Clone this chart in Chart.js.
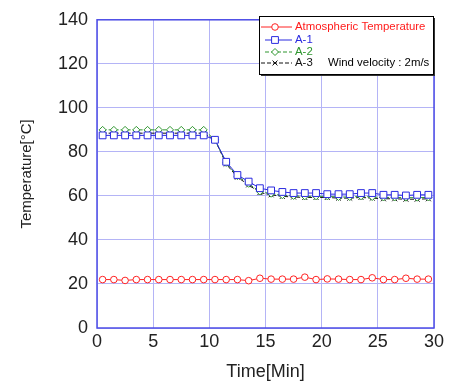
<!DOCTYPE html>
<html>
<head>
<meta charset="utf-8">
<script src="https://cdn.jsdelivr.net/npm/chart.js@4/dist/chart.umd.min.js"></script>
<style>
  body { margin: 0; background: #fff; }
  #chart { display: block; }
</style>
</head>
<body>
<canvas id="chart" width="451" height="387"></canvas>
<script>
const times = [0.5, 1.5, 2.5, 3.5, 4.5, 5.5, 6.5, 7.5, 8.5, 9.5,
    10.5, 11.5, 12.5, 13.5, 14.5, 15.5, 16.5, 17.5, 18.5, 19.5,
    20.5, 21.5, 22.5, 23.5, 24.5, 25.5, 26.5, 27.5, 28.5, 29.5];

const atmosphere = [22, 22, 21.6, 22, 22, 22, 22, 22, 22, 22,
    22, 22, 22, 21.5, 22.6, 22.2, 22.2, 22.2, 23.1, 22,
    22.3, 22.2, 22, 22, 22.8, 22, 22, 22.6, 22.2, 22.2];

const a1 = [87.5, 87.5, 87.5, 87.5, 87.5, 87.5, 87.5, 87.5, 87.5, 87.5,
    85.5, 75.5, 69.5, 66.5, 63.5, 62.5, 61.8, 61.3, 61.3, 61.3,
    60.8, 60.8, 60.8, 61.3, 61.3, 60.5, 60.5, 60.2, 60.5, 60.5];

const a2 = [90, 90, 90, 90, 90, 90, 90, 90, 90, 90,
    85.5, 75, 69, 65.5, 62, 61, 60.3, 60, 59.8, 59.8,
    59.8, 59.5, 59.5, 59.8, 59.5, 59.3, 59.3, 59.2, 59.2, 59.3];

const a3 = [88.5, 88.5, 88.5, 88.5, 88.5, 88.5, 88.5, 88.5, 88.5, 88.5,
    85.5, 74.5, 68.5, 65, 61.5, 60.5, 59.8, 59.5, 59.3, 59.3,
    59.3, 59, 59, 59.3, 59, 58.7, 58.7, 58.5, 58.5, 58.7];

const seriesNames = ['Atmospheric Temperature', 'A-1', 'A-2', 'A-3'];
const note = 'Wind velocity : 2m/s';

const font = "'Liberation Sans', Arial, sans-serif";
const axisBlue = '#4d4de6';

const toPoints = values => values.map((v, i) => ({ x: times[i], y: v }));

const frame = {
    id: 'frame',
    afterDatasetsDraw(chart) {
        const { ctx, chartArea: a } = chart;
        ctx.save();
        ctx.strokeStyle = axisBlue;
        ctx.lineWidth = 1.5;
        ctx.strokeRect(a.left, a.top, a.right - a.left, a.bottom - a.top);
        ctx.restore();
    }
};

const boxLegend = {
    id: 'boxLegend',
    afterDraw(chart) {
        const { ctx } = chart;
        const x0 = 259, y0 = 16, w = 174, h = 58;
        ctx.save();
        ctx.fillStyle = '#333';
        ctx.fillRect(x0 + 2, y0 + 2, w, h);
        ctx.fillStyle = '#fff';
        ctx.fillRect(x0, y0, w, h);
        ctx.strokeStyle = '#000';
        ctx.lineWidth = 1;
        ctx.strokeRect(x0 + 0.5, y0 + 0.5, w, h);

        const rows = [27, 40, 52, 63];
        ctx.font = '11.4px ' + font;
        ctx.textBaseline = 'middle';
        chart.data.datasets.forEach((ds, i) => {
            const y = rows[i];
            ctx.strokeStyle = ds.borderColor;
            ctx.lineWidth = 1;
            ctx.setLineDash(ds.borderDash || []);
            ctx.beginPath();
            ctx.moveTo(i === 0 || i === 3 ? 261 : 265, y);
            ctx.lineTo(292, y);
            ctx.stroke();
            ctx.setLineDash([]);
            ctx.fillStyle = '#fff';
            ctx.strokeStyle = ds.borderColor;
            Chart.helpers.drawPoint(ctx, {
                pointStyle: ds.pointStyle,
                radius: ds.pointRadius,
                borderWidth: 1
            }, 275, y);
            ctx.fillStyle = ds.legendText;
            ctx.fillText(ds.label, 295, y);
        });
        ctx.fillStyle = '#000';
        ctx.fillText(note, 328, rows[3]);
        ctx.restore();
    }
};

const ctx = document.getElementById('chart').getContext('2d');
new Chart(ctx, {
    type: 'line',
    data: {
        datasets: [{
            label: seriesNames[0],
            data: toPoints(atmosphere),
            borderColor: '#ff2222',
            backgroundColor: '#fff',
            legendText: '#ff1a1a',
            pointStyle: 'circle',
            pointRadius: 3.3
        }, {
            label: seriesNames[1],
            data: toPoints(a1),
            borderColor: '#2a2ae0',
            backgroundColor: '#fff',
            legendText: '#2a2ae0',
            pointStyle: 'rect',
            pointRadius: 4.8
        }, {
            label: seriesNames[2],
            data: toPoints(a2),
            borderColor: '#2e962e',
            backgroundColor: '#fff',
            legendText: '#2e962e',
            borderDash: [4, 2],
            pointStyle: 'rectRot',
            pointRadius: 3.5
        }, {
            label: seriesNames[3],
            data: toPoints(a3),
            borderColor: '#111',
            backgroundColor: '#fff',
            legendText: '#111',
            borderDash: [4, 2],
            pointStyle: 'crossRot',
            pointRadius: 3.5
        }]
    },
    options: {
        responsive: false,
        animation: false,
        layout: { padding: { top: 16, right: 17, left: 0, bottom: 0 } },
        elements: {
            line: { borderWidth: 1, tension: 0 },
            point: { borderWidth: 1 }
        },
        plugins: {
            legend: { display: false },
            tooltip: { enabled: false }
        },
        scales: {
            x: {
                type: 'linear',
                min: 0,
                max: 30,
                ticks: { stepSize: 5, padding: 3, color: '#222', font: { family: font, size: 18 } },
                grid: { color: '#b4b4f6', lineWidth: 1, drawTicks: false },
                border: { display: false },
                title: { display: true, text: 'Time[Min]', color: '#222', padding: { bottom: 4 }, font: { family: font, size: 18 } },
                afterFit(scale) { scale.height = 59; }
            },
            y: {
                min: 0,
                max: 140,
                ticks: { stepSize: 20, padding: 9, color: '#222', font: { family: font, size: 18 } },
                grid: { color: '#b4b4f6', lineWidth: 1, drawTicks: false },
                border: { display: false },
                title: { display: true, text: 'Temperature[°C]', color: '#222', padding: { top: 18 }, font: { family: font, size: 15 } },
                afterFit(scale) { scale.width = 97; }
            }
        }
    },
    plugins: [frame, boxLegend]
});
</script>
</body>
</html>
